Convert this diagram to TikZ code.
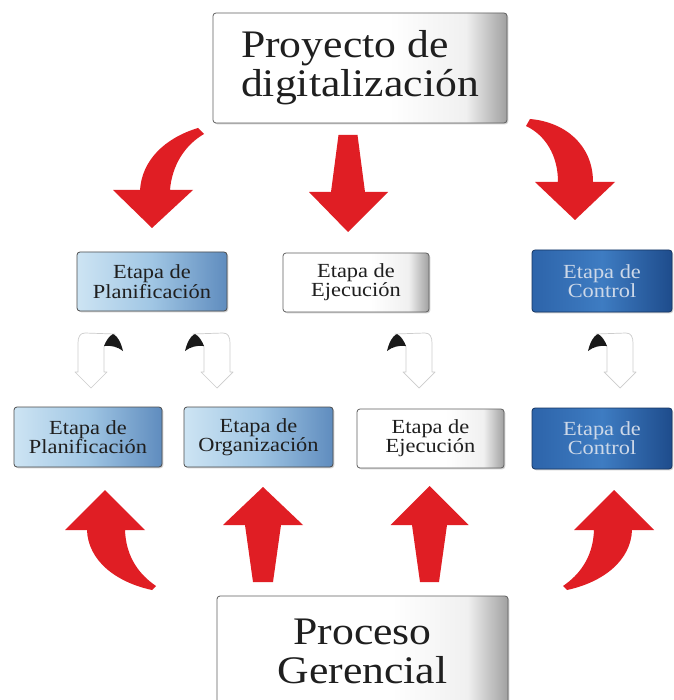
\documentclass[tikz,border=0pt]{standalone}
\usepackage{fontspec}
\setmainfont[FakeStretch=1.12]{Liberation Serif}
\usetikzlibrary{shadows}
\definecolor{arrred}{RGB}{224,30,36}
\definecolor{lbA}{RGB}{205,228,243}
\definecolor{lbB}{RGB}{160,198,228}
\definecolor{lbC}{RGB}{95,140,190}
\definecolor{dbA}{RGB}{45,100,170}
\definecolor{dbB}{RGB}{62,124,194}
\definecolor{dbC}{RGB}{30,76,140}
\definecolor{grA}{RGB}{255,255,255}
\definecolor{grB}{RGB}{240,240,240}
\definecolor{grC}{RGB}{160,160,160}
\definecolor{ctext}{RGB}{205,216,232}
\pgfdeclarehorizontalshading{grayshade}{100bp}{color(0bp)=(grA); color(25bp)=(grA); color(55bp)=(grA); color(68bp)=(grB); color(75bp)=(grC); color(100bp)=(grC)}
\pgfdeclarehorizontalshading{lblueshade}{100bp}{color(0bp)=(lbA); color(25bp)=(lbA); color(50bp)=(lbB); color(75bp)=(lbC); color(100bp)=(lbC)}
\pgfdeclarehorizontalshading{dblueshade}{100bp}{color(0bp)=(dbA); color(25bp)=(dbA); color(50bp)=(dbB); color(75bp)=(dbC); color(100bp)=(dbC)}
\tikzset{
  box/.style={rectangle, rounded corners=3pt, line width=0.8pt, align=center,
    inner sep=0pt, text=black!88, font=\fontsize{20}{18}\selectfont,
    drop shadow={shadow xshift=1.3pt, shadow yshift=-1.3pt, opacity=0.35}},
  graybox/.style={box, shade, shading=grayshade, draw=gray!75!black},
  lbluebox/.style={box, shade, shading=lblueshade, draw=gray!60!black},
  dbluebox/.style={box, shade, shading=dblueshade, draw=dbC!70!black, text=ctext},
  bigbox/.style={graybox, font=\fontsize{39}{39}\selectfont},
  redarrow/.style={fill=arrred},
  uturn/.pic={
    \draw[draw=gray!40, fill=white, line width=0.7pt, line join=round]
      (8,-17) -- (38,-18) .. controls (43,-18) and (45,-14) .. (45,-8) -- (45,21)
      -- (48,21) -- (32,37) -- (16,21) -- (19,21) -- (19,-4) -- cycle;
    \fill[black!90] (0,0) .. controls (2,-8) and (5,-15) .. (10,-17)
      .. controls (14,-15) and (17,-10) .. (19,-5)
      .. controls (12,-6) and (5,-4) .. (0,0) -- cycle;
  }
}
\begin{document}
\begin{tikzpicture}[x=1pt,y=-1pt]
\useasboundingbox (0,0) rectangle (673,700);
\fill[white] (0,0) rectangle (673,700);

% top and bottom boxes
\node[bigbox, align=left, minimum width=294pt, minimum height=110pt] (proj) at (360,68) {Proyecto de\\digitalización};
\node[bigbox, minimum width=291pt, minimum height=110pt] (proc) at (362.5,651) {Proceso\\Gerencial};

% middle row
\node[lbluebox, minimum width=150pt, minimum height=59pt] (p1) at (152,281.5) {Etapa de\\Planificación};
\node[graybox, minimum width=146pt, minimum height=59pt] (e1) at (356,282.5) {Etapa de\\Ejecución};
\node[dbluebox, minimum width=140pt, minimum height=62pt] (c1) at (602,281) {Etapa de\\Control};

% bottom row
\node[lbluebox, minimum width=148pt, minimum height=60pt] (p2) at (88,437) {Etapa de\\Planificación};
\node[lbluebox, minimum width=149pt, minimum height=60pt] (o2) at (258.5,437) {Etapa de\\Organización};
\node[graybox, minimum width=147pt, minimum height=59pt] (e2) at (430.5,438.5) {Etapa de\\Ejecución};
\node[dbluebox, minimum width=140pt, minimum height=61pt] (c2) at (602,438.5) {Etapa de\\Control};

% top red arrows
\fill[redarrow] (198,128) .. controls (165,138) and (142,160) .. (140,190) -- (113,190) -- (152,228) -- (193,190) -- (170,190) .. controls (172,165) and (185,145) .. (204,134) -- cycle;
\fill[redarrow] (338.5,135) -- (357.5,135) -- (365,192) -- (388,192) -- (348,232) -- (309,192) -- (331,192) -- cycle;
\fill[redarrow] (530,119) .. controls (565,122) and (593,145) .. (593,182) -- (615,182) -- (575,220) -- (535,182) -- (558,182) .. controls (558,155) and (545,135) .. (526,126) -- cycle;

% bottom red arrows
\fill[redarrow] (105,490) -- (145,530) -- (125,530) .. controls (126,558) and (140,575) .. (156,586) -- (152,590) .. controls (115,582) and (88,560) .. (87,530) -- (65,530) -- cycle;
\fill[redarrow] (263,487) -- (303,525) -- (281,525) -- (273,582) -- (253,582) -- (245,525) -- (223,525) -- cycle;
\fill[redarrow] (429.5,486) -- (468.5,525) -- (447,525) -- (439,582) -- (420,582) -- (412,525) -- (390.5,525) -- cycle;
\fill[redarrow] (614,490) -- (574,530) -- (594,530) .. controls (593,558) and (579,575) .. (563,586) -- (567,590) .. controls (604,582) and (631,560) .. (632,530) -- (654,530) -- cycle;

% small u-turn arrows
\pic[xscale=-1] at (123,351) {uturn};
\pic at (185,351) {uturn};
\pic at (387,351) {uturn};
\pic at (588,351) {uturn};
\end{tikzpicture}
\end{document}
